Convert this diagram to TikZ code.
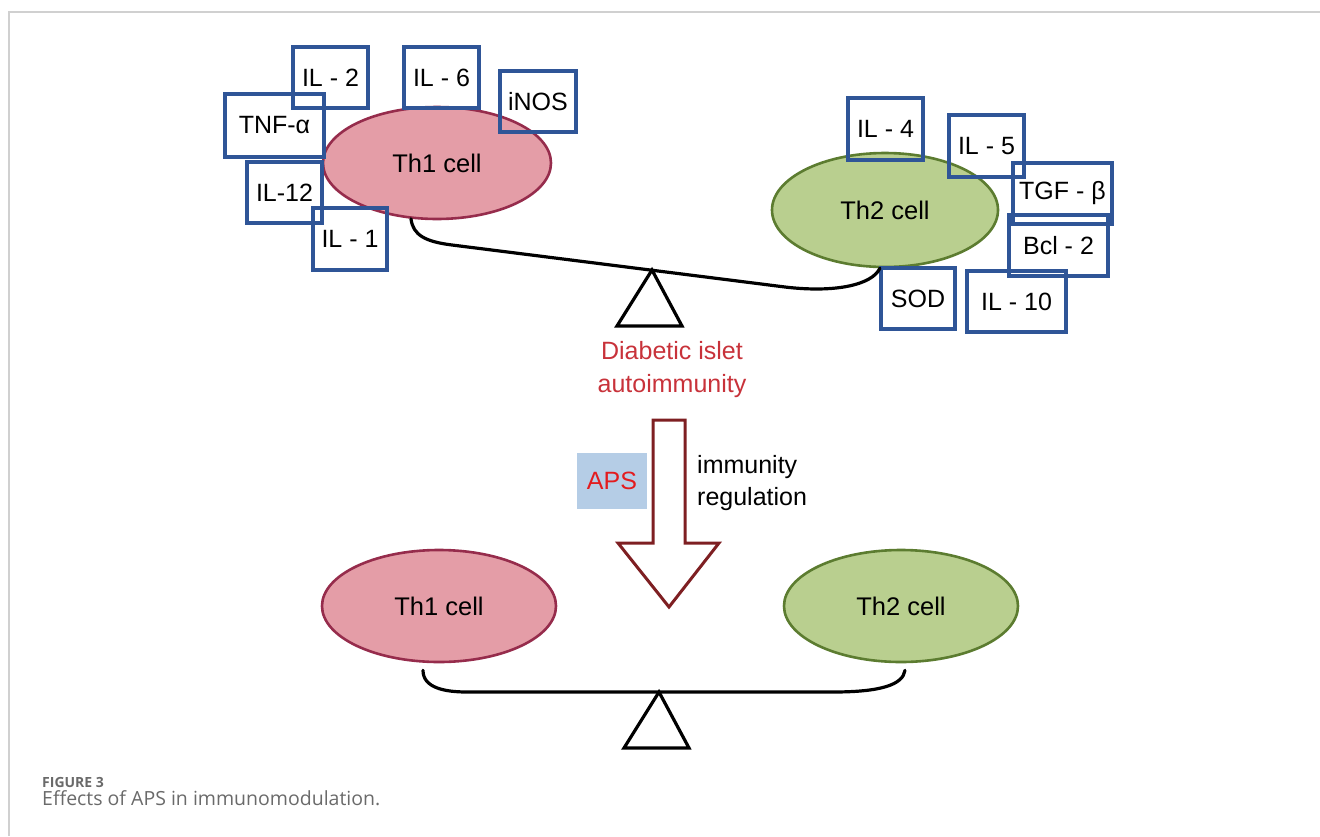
\documentclass[tikz,border=0pt]{standalone}
\usepackage{fontspec}
\setmainfont{Liberation Sans}
\newfontfamily\capfont{Open Sans}
\usepackage{tikz}
\usetikzlibrary{arrows}
\usetikzlibrary{shapes,positioning,calc}

\definecolor{boxblue}{HTML}{2F5597}
\definecolor{thonefill}{HTML}{E49DA7}
\definecolor{thoneline}{HTML}{962C4C}
\definecolor{thtwofill}{HTML}{B9CF8F}
\definecolor{thtwoline}{HTML}{5C7C30}
\definecolor{arrowred}{HTML}{7E1F22}
\definecolor{textred}{HTML}{C8323A}
\definecolor{apsblue}{HTML}{B5CDE6}
\definecolor{apsred}{HTML}{E31B1E}
\definecolor{framegray}{HTML}{D0D0D0}
\definecolor{capgray}{HTML}{6A6A6A}

\tikzset{>=stealth,
  cyto/.style={draw=boxblue,line width=3.3pt,minimum width=75pt,minimum height=61pt,
    inner sep=0pt,font=\fontsize{25}{27}\selectfont},
  widecyto/.style={cyto,minimum width=99pt},
  thone/.style={ellipse,draw=thoneline,fill=thonefill,line width=2.6pt,
    font=\fontsize{25.5}{27}\selectfont},
  thtwo/.style={ellipse,draw=thtwoline,fill=thtwofill,line width=2.6pt,
    font=\fontsize{25.5}{27}\selectfont},
  beam/.style={line width=3.2pt,line cap=round}}

\begin{document}
\begin{tikzpicture}[x=1pt,y=-1pt]

  \useasboundingbox (0,0) rectangle (1320,836);
  \draw [framegray,line width=1.5pt] (9,836) -- (9,12) -- (1320,12);

  % upper balance
  \node [thone,minimum width=228pt,minimum height=112pt] (th1) at (437,163) {Th1 cell};
  \node [thtwo,minimum width=226pt,minimum height=114pt] (th2) at (885,210) {Th2 cell};

  \node [cyto] (il2) at (330.5,77.5) {IL - 2};
  \node [cyto] (il6) at (441.5,77.5) {IL - 6};
  \node [cyto,minimum width=76pt] (inos) at (538,101.5) {iNOS};
  \node [widecyto,minimum height=63pt] (tnf) at (274.5,125.5) {TNF-α};
  \node [cyto] (il12) at (284.5,192.5) {IL-12};
  \node [cyto,minimum width=74pt,minimum height=62pt] (il1) at (350,239) {IL - 1};

  \node [cyto,minimum height=62pt] (il4) at (885.5,129) {IL - 4};
  \node [cyto,minimum height=62pt] (il5) at (986.5,146) {IL - 5};
  \node [widecyto] (tgf) at (1062.5,193.5) {TGF - β};
  \node [widecyto] (bcl) at (1058.5,245.5) {Bcl - 2};
  \node [cyto,minimum width=74pt] (sod) at (918,298.5) {SOD};
  \node [widecyto] (il10) at (1016.5,301.5) {IL - 10};

  \coordinate (top) at (652,270);
  \draw [beam] (th1.245) .. controls (413,235) and (425,241.6) .. (452,245)
    -- (785,287) .. controls (835,293) and (872,285) .. (th2.265);
  \draw [line width=3.2pt,fill=white] (top) -- (682,326) -- (617,326) -- cycle;

  \node [textred,align=center,font=\fontsize{25}{33}\selectfont] (dia) at (672,370)
    {Diabetic islet\\autoimmunity};

  % hollow arrow
  \draw [arrowred,line width=3pt,line join=miter,fill=white] (653,420) -- (685,420) -- (685,543)
    -- (719,543) -- (669,607) -- (618,543) -- (653,543) -- cycle;

  \node [fill=apsblue,text=apsred,minimum width=70pt,minimum height=56pt,
    font=\fontsize{25}{27}\selectfont] (aps) at (612,481) {APS};
  \node [anchor=west,align=left,font=\fontsize{25}{32}\selectfont,inner sep=0pt] (reg) at (697,483)
    {immunity\\regulation};

  % lower balance
  \node [thone,minimum width=234pt,minimum height=112pt] (th1b) at (439,606) {Th1 cell};
  \node [thtwo,minimum width=234pt,minimum height=112pt] (th2b) at (901,606) {Th2 cell};

  \coordinate (bottom) at (659,692);
  \draw [beam] ($(th1b.south)+(-16,7)$) .. controls (423,688) and (445,692) .. (467,692)
    -- (833,692) .. controls (880,692) and (903,685) .. ($(th2b.south)+(4,7)$);
  \draw [line width=3.2pt,fill=white] (bottom) -- (689,748) -- (624,748) -- cycle;

  % caption
  \node [anchor=base west,inner sep=0pt,text=capgray,font=\capfont\bfseries\fontsize{14}{16}\selectfont]
    (fig) at (42,787) {FIGURE 3};
  \node [anchor=base west,inner sep=0pt,text=capgray,font=\capfont\fontsize{19.5}{21}\selectfont]
    (cap) at (42,805) {Effects of APS in immunomodulation.};

\end{tikzpicture}
\end{document}
